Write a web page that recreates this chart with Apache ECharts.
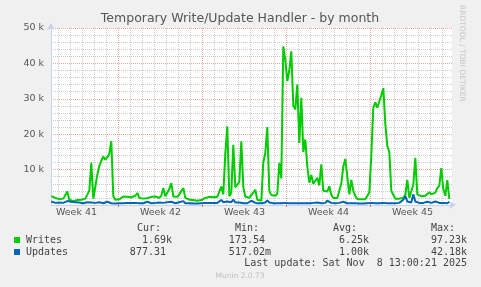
<!DOCTYPE html>
<html>
<head>
<meta charset="utf-8">
<script src="https://cdn.jsdelivr.net/npm/echarts@6/dist/echarts.min.js"></script>
<style>
html,body{margin:0;padding:0;background:#f0f0f0;}
#chart{width:481px;height:287px;}
</style>
</head>
<body>
<div id="chart"></div>
<script>
// ---- data (sampled every 4 hours, day offsets relative to start of Week 42) ----
const sampleStartDay = -5.6;
const sampleStepDay = 1 / 6;
const writes = [
  2500, 2800, 2000, 1700, 1700, 1600, 1800, 2000, 3800, 1500,
  1200, 1100, 1200, 1400, 1700, 1500, 1600, 1800, 1600, 4000,
  11900, 1800, 2200, 8500, 11000, 12500, 13700, 12800, 13500, 14500,
  18000, 2500, 1500, 1500, 1600, 1800, 2400, 2200, 2300, 2100,
  2200, 2000, 2600, 3400, 2000, 2000, 1800, 1700, 1900, 1800,
  2300, 2100, 2400, 2300, 2000, 2600, 4800, 2500, 3000, 4500,
  6200, 2400, 2600, 2300, 3000, 2600, 4800, 2000, 1600, 1500,
  1500, 1400, 1200, 1200, 1300, 1400, 1200, 2000, 2400, 2300,
  2400, 2200, 2000, 2300, 2200, 5200, 3000, 14500, 22200, 2500,
  3500, 17000, 5000, 5500, 6500, 18000, 5000, 2400, 2000, 2000,
  2800, 2400, 4300, 1500, 1000, 1200, 12000, 14700, 22000, 4000,
  2800, 2500, 2600, 3200, 11900, 7500, 44800, 41000, 35000, 38000,
  43400, 28000, 27000, 34000, 17500, 30300, 15000, 18500, 11000, 6300,
  8500, 6000, 6500, 7700, 5500, 11500, 4000, 3500, 3800, 5300,
  2900, 2000, 1800, 2000, 2200, 6000, 10900, 13000, 8000, 3000,
  7100, 4000, 2500, 1700, 1500, 1600, 1700, 1600, 2000, 3500,
  14000, 27500, 29000, 27500, 28000, 31000, 33000, 23000, 16600, 15000,
  4000, 2900, 1800, 1600, 1800, 1800, 2000, 2900, 7100, 2000,
  2200, 5700, 13300, 3000, 2500, 2500, 2400, 2600, 2800, 3600,
  3000, 2700, 3500, 4800, 5500, 10400, 4500, 2600, 7000, 1700
];
const updates = [
  1000, 800, 600, 500, 700, 1000, 600, 900, 1100, 800,
  900, 1200, 800, 600, 700, 900, 500, 600, 800, 1200,
  700, 500, 600, 1000, 800, 600, 500, 700, 900, 600,
  500, 400, 400, 500, 500, 600, 500, 700, 600, 500,
  600, 800, 600, 500, 500, 400, 500, 500, 900, 600,
  500, 500, 600, 500, 700, 1000, 600, 500, 800, 700,
  900, 600, 500, 600, 800, 600, 1100, 500, 400, 500,
  400, 400, 500, 400, 400, 500, 500, 600, 700, 600,
  500, 600, 800, 600, 700, 1400, 800, 600, 1000, 500,
  800, 1500, 700, 600, 700, 800, 500, 400, 500, 500,
  1200, 700, 600, 500, 500, 500, 800, 700, 1300, 700,
  500, 500, 500, 500, 600, 500, 700, 600, 500, 500,
  600, 500, 500, 500, 500, 500, 600, 500, 500, 500,
  500, 600, 500, 700, 600, 500, 500, 600, 1200, 800,
  600, 500, 500, 500, 600, 700, 900, 600, 500, 600,
  500, 500, 500, 400, 400, 500, 400, 400, 500, 500,
  600, 500, 500, 500, 500, 500, 600, 500, 500, 500,
  500, 500, 500, 500, 600, 500, 1500, 2500, 1000, 600,
  700, 3000, 1000, 800, 600, 700, 600, 800, 900, 700,
  600, 700, 1000, 800, 600, 500, 600, 700, 500, 900
];
const weekLabels = ['Week 41', 'Week 42', 'Week 43', 'Week 44', 'Week 45'];
const weekMidDays = [-3.5, 3.5, 10.5, 17.5, 24.5];
const weekStartDays = [0, 7, 14, 21];
const gridDays = [-5,-4,-3,-2,-1,1,2,3,4,5,6,8,9,10,11,12,13,15,16,17,18,19,20,22,23,24,25,26,27];
const xMinDay = -5.625, xMaxDay = 27.7917;
const yMax = 50000, yStep = 10000;

const legendRows = [
  { name: 'Writes',  color: '#00cc00', cur: '1.69k',  min: '173.54',  avg: '6.25k', max: '97.23k' },
  { name: 'Updates', color: '#0066b3', cur: '877.31', min: '517.02m', avg: '1.00k', max: '42.18k' }
];
const lastUpdate = 'Last update: Sat Nov  8 13:00:21 2025';

// ---- build ----
const toPairs = arr => arr.map((v, i) => [sampleStartDay + i * sampleStepDay, v]);
const chart = echarts.init(document.getElementById('chart'), null, { renderer: 'canvas' });

const sans = 'DejaVu Sans';
const txtCol = '#444';
const monoFont = '10px "DejaVu Sans Mono"';

const graphics = [
  { type: 'text', x: 240, y: 19, style: { text: 'Temporary Write/Update Handler - by month', font: '12.5px "DejaVu Sans"', fill: '#555', textAlign: 'center', textVerticalAlign: 'middle' } },
  { type: 'text', x: 466, y: 5, rotation: -Math.PI / 2, style: { text: 'RRDTOOL / TOBI OETIKER', font: '7.5px "DejaVu Sans"', fill: '#c4c4c4', textAlign: 'left', textVerticalAlign: 'top' } },
  { type: 'text', x: 137, y: 228, style: { text: 'Cur:', font: monoFont, fill: txtCol, textVerticalAlign: 'middle' } },
  { type: 'text', x: 235, y: 228, style: { text: 'Min:', font: monoFont, fill: txtCol, textVerticalAlign: 'middle' } },
  { type: 'text', x: 333, y: 228, style: { text: 'Avg:', font: monoFont, fill: txtCol, textVerticalAlign: 'middle' } },
  { type: 'text', x: 431, y: 228, style: { text: 'Max:', font: monoFont, fill: txtCol, textVerticalAlign: 'middle' } },
  { type: 'text', x: 467, y: 263.5, style: { text: lastUpdate, font: monoFont, fill: txtCol, textAlign: 'right', textVerticalAlign: 'middle' } },
  { type: 'text', x: 240, y: 276, style: { text: 'Munin 2.0.73', font: '7.5px "DejaVu Sans"', fill: '#c0c0c0', textAlign: 'center', textVerticalAlign: 'middle' } }
];
legendRows.forEach((r, k) => {
  const y = 240 + k * 12;
  graphics.push({ type: 'rect', shape: { x: 14, y: y - 3, width: 6, height: 6 }, style: { fill: r.color } });
  graphics.push({ type: 'text', x: 26, y: y, style: { text: r.name, font: monoFont, fill: txtCol, textVerticalAlign: 'middle' } });
  const cols = [[r.cur, 172], [r.min, 271], [r.avg, 369], [r.max, 467]];
  cols.forEach(([t, xr]) => {
    const pad = /[kmM]$/.test(t) ? '' : ' ';
    graphics.push({ type: 'text', x: xr, y: y, style: { text: t + pad, font: monoFont, fill: txtCol, textAlign: 'right', textVerticalAlign: 'middle' } });
  });
});

const greyGrid = 'rgba(170,170,170,0.6)';
const redGrid = 'rgba(230,90,90,0.55)';
const vGridData = gridDays.map(d => [d, 0]).concat(weekStartDays.map(d => [d, 1]));

const option = {
  backgroundColor: '#f0f0f0',
  animation: false,
  grid: { left: 51, top: 28, width: 401, height: 177, show: true, backgroundColor: '#ffffff', borderWidth: 0 },
  xAxis: {
    type: 'value', min: xMinDay, max: xMaxDay,
    axisLine: { show: true, onZero: false, lineStyle: { color: '#c8cff2', width: 1 }, symbol: ['none', 'arrow'], symbolSize: [6, 7], symbolOffset: [0, 4] },
    axisTick: { show: true, customValues: weekStartDays, length: 2, inside: false, lineStyle: { color: '#e06666' } },
    axisLabel: {
      show: true, customValues: weekMidDays, margin: 3, color: '#555', fontSize: 9.5, fontFamily: sans,
      formatter: v => { const i = weekMidDays.findIndex(d => Math.abs(d - v) < 1e-6); return i >= 0 ? weekLabels[i] : ''; }
    },
    splitLine: { show: false }
  },
  yAxis: {
    type: 'value', min: 0, max: yMax, interval: yStep,
    axisLine: { show: true, onZero: false, lineStyle: { color: '#c8cff2', width: 1 }, symbol: ['none', 'arrow'], symbolSize: [6, 7], symbolOffset: [0, 5] },
    axisTick: { show: false },
    axisLabel: { color: '#555', fontSize: 9.5, fontFamily: sans, margin: 7, formatter: v => v === 0 ? '' : (v / 1000) + ' k' },
    splitLine: { show: true, lineStyle: { color: redGrid, type: 'dotted', width: 1 } },
    minorTick: { show: false, splitNumber: 5 },
    minorSplitLine: { show: true, lineStyle: { color: greyGrid, type: 'dotted', width: 1 } }
  },
  graphic: graphics,
  series: [
    {
      type: 'custom', silent: true, z: 1, clip: false,
      data: vGridData,
      encode: { x: 0 },
      renderItem: (params, api) => {
        const d = api.value(0);
        const pBottom = api.coord([d, 0]);
        const pTop = api.coord([d, yMax]);
        const x = Math.round(pBottom[0] - 0.5) + 0.5;
        return {
          type: 'line',
          shape: { x1: x, y1: pBottom[1], x2: x, y2: pTop[1] },
          style: { stroke: api.value(1) ? redGrid : greyGrid, lineWidth: 1, lineDash: [1, 1] }
        };
      }
    },
    {
      name: 'Writes', type: 'line', data: toPairs(writes), showSymbol: false, symbol: 'none', z: 3,
      lineStyle: { color: '#00cc00', width: 2 }, itemStyle: { color: '#00cc00' }
    },
    {
      name: 'Updates', type: 'line', data: toPairs(updates), showSymbol: false, symbol: 'none', z: 4,
      lineStyle: { color: '#0066b3', width: 2 }, itemStyle: { color: '#0066b3' }
    }
  ]
};
chart.setOption(option);
</script>
</body>
</html>
